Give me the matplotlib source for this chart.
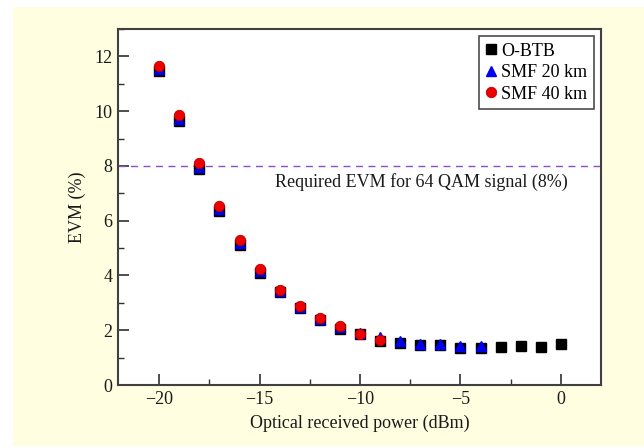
import matplotlib
matplotlib.use("Agg")
from matplotlib import pyplot as plt
from matplotlib.patches import Rectangle
from matplotlib.ticker import MultipleLocator

plt.rcParams["font.family"] = ["Liberation Serif", "DejaVu Serif"]

power_btb = [-20, -19, -18, -17, -16, -15, -14, -13, -12, -11, -10,
             -9, -8, -7, -6, -5, -4, -3, -2, -1, 0]
evm_btb = [11.45, 9.65, 7.9, 6.35, 5.12, 4.1, 3.38, 2.8, 2.37, 2.05, 1.85,
           1.62, 1.55, 1.45, 1.45, 1.36, 1.34, 1.38, 1.42, 1.37, 1.5]

power_20 = [-20, -19, -18, -17, -16, -15, -14, -13, -12, -11, -10,
            -9, -8, -7, -6, -5, -4]
evm_20 = [11.55, 9.72, 7.97, 6.42, 5.18, 4.16, 3.45, 2.85, 2.42, 2.1, 1.9,
          1.74, 1.6, 1.5, 1.51, 1.42, 1.44]

power_40 = [-20, -19, -18, -17, -16, -15, -14, -13, -12, -11, -10, -9]
evm_40 = [11.65, 9.85, 8.1, 6.55, 5.28, 4.24, 3.47, 2.89, 2.45, 2.15, 1.88, 1.66]

evm_limit = 8

fig = plt.figure(figsize=(6.44, 4.48), dpi=100)
fig.patch.set_facecolor("white")
# yellow panel behind the chart
fig.patches.append(Rectangle((13 / 644, 2 / 448), 1 - 13 / 644, 1 - 9 / 448,
                             transform=fig.transFigure, facecolor="#FFFEE0",
                             edgecolor="none", zorder=-10))

ax = fig.add_axes([118 / 644, 63 / 448, 483 / 644, 356 / 448])
ax.set_facecolor("white")

ax.plot(power_btb, evm_btb, "s", color="black", markersize=6.5, label="O-BTB", zorder=3)
ax.plot(power_20, evm_20, "^", color="#0000EE", markersize=7.5, label="SMF 20 km", zorder=4)
ax.plot(power_40, evm_40, "o", color="#EE0000", markeredgecolor="#B00000",
        markeredgewidth=0.6, markersize=7.5, label="SMF 40 km", zorder=5)

ax.axhline(evm_limit, color="#8A4FC8", linestyle=(0, (5, 4)), linewidth=1.0, zorder=2)
ax.text(0.35, evm_limit - 0.25, "Required EVM for 64 QAM signal (8%)",
        ha="right", va="top", fontsize=13, color="#1a1a1a")

ax.set_xlim(-22.05, 2.0)
ax.set_ylim(0, 13)
ax.xaxis.set_major_locator(MultipleLocator(5))
ax.xaxis.set_minor_locator(MultipleLocator(2.5))
ax.yaxis.set_major_locator(MultipleLocator(2))
ax.yaxis.set_minor_locator(MultipleLocator(1))

for side in ["left", "bottom", "top", "right"]:
    ax.spines[side].set_color("#404040")
    ax.spines[side].set_linewidth(1.5)
ax.tick_params(which="both", direction="in", top=False, right=False,
               color="#303030", labelsize=13, labelcolor="#1a1a1a")
ax.tick_params(which="major", length=8, width=1.2, pad=4)
ax.tick_params(which="minor", length=4.5, width=1.0)

ax.set_xlabel("Optical received power (dBm)", fontsize=13, color="#1a1a1a", labelpad=5)
ax.set_ylabel("EVM (%)", fontsize=13, color="#1a1a1a", labelpad=6)

leg = ax.legend(loc="upper right", fontsize=13, frameon=True, fancybox=False,
                edgecolor="#202020", handlelength=0.6, handletextpad=0.3,
                borderpad=0.35, labelspacing=0.25, borderaxespad=0.4)
leg.get_frame().set_linewidth(1.2)

fig.savefig("out.png", dpi=100, facecolor=fig.get_facecolor())
